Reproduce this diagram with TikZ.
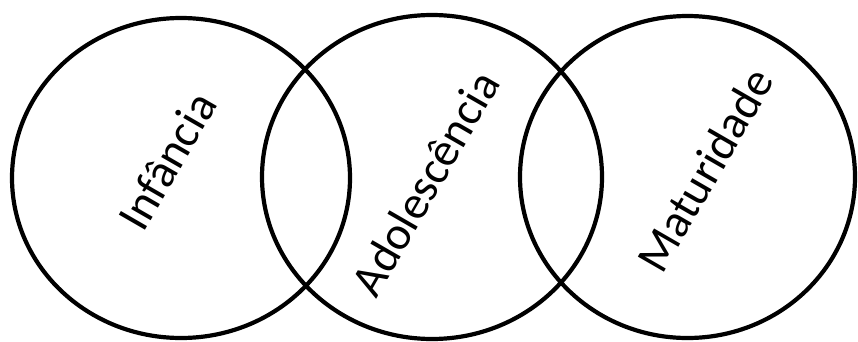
\documentclass[tikz,border=0pt]{standalone}
\usepackage{fontspec}
\setmainfont{Carlito}
\begin{document}
\begin{tikzpicture}[x=1pt,y=1pt,
  ring/.style={draw=black,line width=4.2pt},
  lbl/.style={font=\fontsize{47}{52}\selectfont,rotate=60,inner sep=0pt}]
\useasboundingbox (0,0) rectangle (858,341);
\coordinate (e1) at (181,163);
\coordinate (e2) at (432,164);
\coordinate (e3) at (687.5,164);
\draw[ring] (e1) ellipse [x radius=169, y radius=160];
\draw[ring] (e2) ellipse [x radius=170, y radius=162];
\draw[ring] (e3) ellipse [x radius=167.5, y radius=161];
\node[lbl] (t1) at (167,180) {Infância};
\node[lbl] (t2) at (425,158) {Adolescência};
\node[lbl] (t3) at (705,171) {Maturidade};
\end{tikzpicture}
\end{document}
